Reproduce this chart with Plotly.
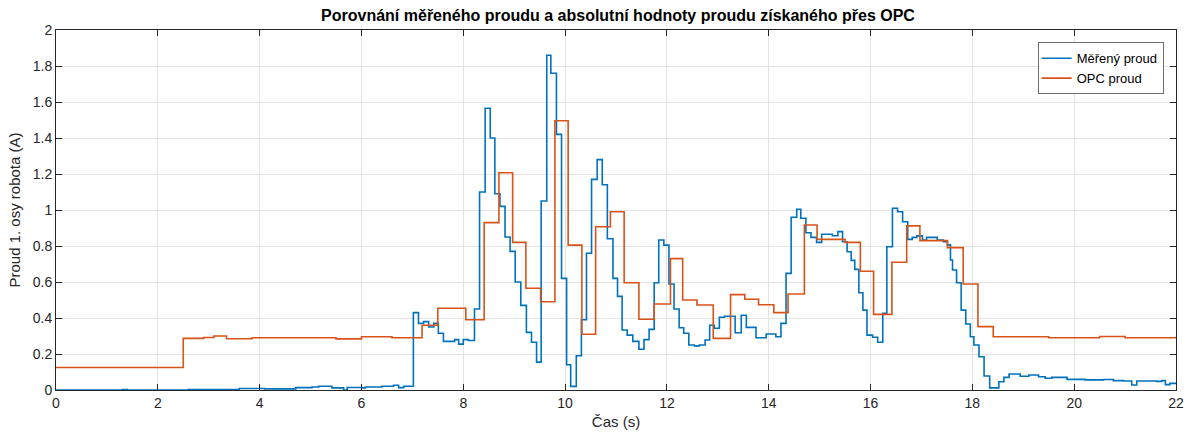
import plotly.graph_objects as go

# Measured current (blue): step breakpoints (time in s, current in A)
measured_t = [0.00, 1.30, 1.40, 2.60, 3.60, 4.10, 4.71, 5.03, 5.16, 5.42, 5.65, 5.72, 6.01, 6.08,
              6.40, 6.63, 6.73, 6.83, 7.02, 7.12, 7.22, 7.32, 7.42, 7.51, 7.61, 7.83, 7.91, 8.00,
              8.10, 8.22, 8.32, 8.43, 8.53, 8.62, 8.72, 8.82, 8.92, 9.02, 9.13, 9.24, 9.34, 9.44,
              9.53, 9.64, 9.72, 9.83, 9.93, 10.03, 10.11, 10.22, 10.32, 10.42, 10.52, 10.63, 10.73,
              10.83, 10.94, 11.03, 11.12, 11.22, 11.33, 11.45, 11.55, 11.65, 11.75, 11.84, 11.94,
              12.04, 12.14, 12.24, 12.33, 12.43, 12.54, 12.64, 12.75, 12.84, 12.93, 13.03, 13.13,
              13.34, 13.46, 13.56, 13.75, 13.95, 14.14, 14.24, 14.34, 14.44, 14.55, 14.63, 14.73,
              14.83, 14.94, 15.04, 15.25, 15.36, 15.45, 15.54, 15.62, 15.69, 15.77, 15.85, 15.93,
              16.04, 16.14, 16.24, 16.32, 16.43, 16.53, 16.63, 16.73, 16.82, 16.91, 17.02, 17.10,
              17.31, 17.43, 17.51, 17.57, 17.61, 17.69, 17.78, 17.87, 17.96, 18.03, 18.13, 18.23,
              18.34, 18.52, 18.62, 18.72, 18.94, 19.11, 19.30, 19.43, 19.56, 19.86, 20.21, 20.58,
              20.77, 20.97, 21.13, 21.23, 21.62, 21.72, 21.79, 21.88, 22.00]
measured_i = [0.000, 0.003, 0.000, 0.003, 0.008, 0.006, 0.013, 0.017, 0.021, 0.012, 0.000, 0.014,
              0.012, 0.017, 0.021, 0.026, 0.013, 0.021, 0.430, 0.370, 0.380, 0.350, 0.370, 0.315,
              0.270, 0.280, 0.255, 0.280, 0.275, 0.450, 1.100, 1.565, 1.400, 1.090, 1.020, 0.850,
              0.770, 0.600, 0.470, 0.320, 0.265, 0.155, 1.050, 1.860, 1.760, 1.420, 0.620, 0.140,
              0.020, 0.190, 0.390, 0.760, 1.170, 1.280, 1.140, 0.840, 0.620, 0.520, 0.333, 0.305,
              0.270, 0.226, 0.280, 0.337, 0.596, 0.833, 0.805, 0.589, 0.450, 0.346, 0.315, 0.250,
              0.245, 0.250, 0.278, 0.360, 0.343, 0.404, 0.410, 0.318, 0.415, 0.348, 0.290, 0.311,
              0.296, 0.370, 0.648, 0.960, 1.004, 0.954, 0.874, 0.848, 0.820, 0.865, 0.857, 0.880,
              0.824, 0.768, 0.720, 0.670, 0.540, 0.444, 0.305, 0.293, 0.265, 0.426, 0.796, 1.010,
              0.990, 0.935, 0.837, 0.848, 0.856, 0.833, 0.848, 0.833, 0.824, 0.806, 0.722, 0.667,
              0.596, 0.444, 0.367, 0.296, 0.250, 0.185, 0.078, 0.012, 0.046, 0.070, 0.089, 0.076,
              0.083, 0.074, 0.065, 0.070, 0.059, 0.056, 0.058, 0.052, 0.050, 0.028, 0.050, 0.048,
              0.052, 0.030, 0.037, 0.037]

# Current read over OPC (orange): step breakpoints
opc_t = [0.00, 2.50, 2.90, 3.10, 3.35, 3.85, 5.50, 6.00, 6.60, 7.19, 7.50, 8.05, 8.41, 8.70,
         8.97, 9.23, 9.52, 9.80, 10.06, 10.33, 10.60, 10.89, 11.16, 11.45, 11.75, 12.07, 12.31,
         12.59, 12.91, 13.25, 13.53, 13.80, 14.10, 14.38, 14.70, 14.95, 15.50, 15.80, 16.06,
         16.42, 16.71, 16.97, 17.51, 17.82, 18.11, 18.41, 19.50, 20.50, 21.00, 22.00]
opc_i = [0.125, 0.287, 0.292, 0.300, 0.285, 0.290, 0.284, 0.296, 0.290, 0.360, 0.454, 0.390,
         0.930, 1.207, 0.820, 0.565, 0.490, 1.496, 0.805, 0.310, 0.907, 0.990, 0.596, 0.393,
         0.478, 0.730, 0.500, 0.472, 0.287, 0.530, 0.504, 0.474, 0.430, 0.533, 0.917, 0.837,
         0.820, 0.660, 0.420, 0.710, 0.912, 0.830, 0.791, 0.589, 0.352, 0.296, 0.290, 0.297,
         0.290, 0.296]

x_ticks = list(range(0, 23, 2))
y_ticks = [round(0.2 * k, 1) for k in range(11)]

FONT = "Liberation Sans, Arial, Helvetica, sans-serif"
AX = "#262626"
GRID = "#e3e3e3"

fig = go.Figure()
fig.add_trace(go.Scatter(x=measured_t, y=measured_i, mode="lines", line_shape="hv",
                         name="Měřený proud", line=dict(color="#0072BD", width=1.6)))
fig.add_trace(go.Scatter(x=opc_t, y=opc_i, mode="lines", line_shape="hv",
                         name="OPC proud", line=dict(color="#D95319", width=1.6)))

axis_common = dict(
    showline=True, linecolor=AX, linewidth=1, mirror="ticks",
    ticks="inside", ticklen=6, tickcolor=AX, tickwidth=1,
    showgrid=True, gridcolor=GRID, gridwidth=1, zeroline=False,
    tickfont=dict(family=FONT, size=14, color=AX),
)

fig.update_xaxes(range=[0, 22], tickvals=x_ticks, ticktext=[str(v) for v in x_ticks],
                 title=dict(text="Čas (s)", font=dict(family=FONT, size=15, color=AX), standoff=6),
                 **axis_common)
fig.update_yaxes(range=[0, 2], tickvals=y_ticks,
                 ticktext=[("%g" % v) for v in y_ticks],
                 title=dict(text="Proud 1. osy robota (A)", font=dict(family=FONT, size=15, color=AX),
                            standoff=8),
                 **axis_common)

fig.update_layout(
    width=1196, height=439,
    margin=dict(l=56, r=16, t=30, b=49),
    paper_bgcolor="white", plot_bgcolor="white",
    title=dict(text="<b>Porovnání měřeného proudu a absolutní hodnoty proudu získaného přes OPC</b>",
               x=(56 + 1180) / 2 / 1196, xanchor="center", y=1 - 15 / 439, yanchor="middle",
               font=dict(family=FONT, size=16, color="#000000")),
    legend=dict(x=0.989, y=0.966, xanchor="right", yanchor="top",
                bgcolor="white", bordercolor="#6e6e6e", borderwidth=1,
                font=dict(family=FONT, size=13, color="#000000"),
                tracegroupgap=0, itemwidth=30, indentation=-2),
    showlegend=True,
)

fig.write_html("out.html")
